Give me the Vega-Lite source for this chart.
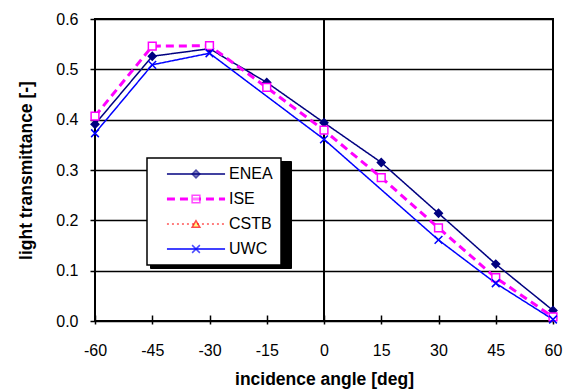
{
  "$schema": "https://vega.github.io/schema/vega-lite/v6.json",
  "width": 458,
  "height": 302,
  "autosize": {"type": "none"},
  "padding": {"left": 95, "top": 19, "right": 19, "bottom": 70},
  "background": "white",
  "config": {
    "font": "Liberation Sans",
    "view": {"stroke": "black", "strokeWidth": 2},
    "axis": {
      "labelFont": "Liberation Sans",
      "titleFont": "Liberation Sans",
      "labelColor": "black",
      "titleColor": "black",
      "tickColor": "black",
      "tickWidth": 1.5,
      "domain": false,
      "labelFontSize": 16,
      "titleFontSize": 17.5,
      "titleFontWeight": "bold",
      "labelFlush": false,
      "labelOverlap": false
    },
    "legend": {"labelFont": "Liberation Sans", "labelColor": "black"}
  },
  "data": {
    "values": [
      {"lab": "ENEA", "angle": -60, "lt": 0.391},
      {"lab": "ENEA", "angle": -45, "lt": 0.526},
      {"lab": "ENEA", "angle": -30, "lt": 0.541},
      {"lab": "ENEA", "angle": -15, "lt": 0.474},
      {"lab": "ENEA", "angle": 0, "lt": 0.394},
      {"lab": "ENEA", "angle": 15, "lt": 0.315},
      {"lab": "ENEA", "angle": 30, "lt": 0.214},
      {"lab": "ENEA", "angle": 45, "lt": 0.113},
      {"lab": "ENEA", "angle": 60, "lt": 0.021},
      {"lab": "ISE", "angle": -60, "lt": 0.407},
      {"lab": "ISE", "angle": -45, "lt": 0.546},
      {"lab": "ISE", "angle": -30, "lt": 0.547},
      {"lab": "ISE", "angle": -15, "lt": 0.464},
      {"lab": "ISE", "angle": 0, "lt": 0.379},
      {"lab": "ISE", "angle": 15, "lt": 0.285},
      {"lab": "ISE", "angle": 30, "lt": 0.185},
      {"lab": "ISE", "angle": 45, "lt": 0.086},
      {"lab": "ISE", "angle": 60, "lt": 0.008},
      {"lab": "UWC", "angle": -60, "lt": 0.373},
      {"lab": "UWC", "angle": -45, "lt": 0.509},
      {"lab": "UWC", "angle": -30, "lt": 0.532},
      {"lab": "UWC", "angle": 0, "lt": 0.361},
      {"lab": "UWC", "angle": 30, "lt": 0.161},
      {"lab": "UWC", "angle": 45, "lt": 0.075},
      {"lab": "UWC", "angle": 60, "lt": 0.003}
    ]
  },
  "encoding": {
    "x": {
      "field": "angle",
      "type": "quantitative",
      "scale": {"domain": [-60, 60], "nice": false, "zero": false},
      "axis": {
        "title": "incidence angle [deg]",
        "values": [-60, -45, -30, -15, 0, 15, 30, 45, 60],
        "labelExpr": "'' + datum.value",
        "offset": -6,
        "tickSize": 9,
        "labelPadding": 18,
        "grid": false,
        "titlePadding": 12
      }
    },
    "y": {
      "field": "lt",
      "type": "quantitative",
      "scale": {"domain": [0, 0.6], "nice": false},
      "axis": {
        "title": "light transmittance [-]",
        "values": [0, 0.1, 0.2, 0.3, 0.4, 0.5, 0.6],
        "format": ".1f",
        "tickSize": 5,
        "labelPadding": 12,
        "grid": true,
        "gridColor": "black",
        "gridWidth": 1.5,
        "gridOpacity": 1,
        "titlePadding": 20
      }
    }
  },
  "layer": [
    {
      "mark": {"type": "rule", "color": "black", "strokeWidth": 1.5},
      "encoding": {"x": {"datum": 0}, "y": null}
    },
    {
      "mark": {"type": "line", "strokeCap": "butt"},
      "encoding": {
        "detail": {"field": "lab"},
        "color": {
          "field": "lab",
          "type": "nominal",
          "scale": {
            "domain": ["ENEA", "ISE", "CSTB", "UWC"],
            "range": ["#000080", "#FF00FF", "#FF0000", "#0000FF"]
          },
          "legend": {
            "title": null,
            "orient": "none",
            "legendX": 52,
            "legendY": 139,
            "direction": "vertical",
            "padding": 8,
            "rowPadding": 9,
            "fillColor": "white",
            "strokeColor": "black",
            "symbolType": "M-7.5,0H7.5",
            "symbolSize": 60,
            "symbolOffset": 33,
            "labelOffset": 25,
            "labelFontSize": 16,
            "labelExpr": "datum.label + '\u00a0'",
            "zindex": 2,
            "encode": {"legend": {"update": {"strokeWidth": {"value": 1.5}}}}
          }
        },
        "strokeDash": {
          "field": "lab",
          "type": "nominal",
          "scale": {
            "type": "ordinal",
            "domain": ["ENEA", "ISE", "CSTB", "UWC"],
            "range": [[1, 0], [8, 5], [2, 3], [1, 0]]
          }
        },
        "strokeWidth": {
          "field": "lab",
          "type": "nominal",
          "scale": {
            "type": "ordinal",
            "domain": ["ENEA", "ISE", "CSTB", "UWC"],
            "range": [1.5, 3, 1, 1.5]
          }
        }
      }
    },
    {
      "mark": {"type": "point", "filled": true, "size": 60, "strokeWidth": 1.5},
      "encoding": {
        "shape": {
          "field": "lab",
          "type": "nominal",
          "scale": {
            "domain": ["ENEA", "ISE", "UWC", "CSTB"],
            "range": ["diamond", "square", "M-1,-1L1,1M-1,1L1,-1", "triangle-up"]
          },
          "legend": {
            "title": null,
            "orient": "none",
            "legendX": 52,
            "legendY": 139,
            "direction": "vertical",
            "padding": 8,
            "rowPadding": 9,
            "symbolSize": 60,
            "symbolStrokeWidth": 1.5,
            "symbolOffset": 33,
            "labelOffset": 25,
            "labelFontSize": 16,
            "labelExpr": "''",
            "values": ["ENEA", "ISE", "CSTB", "UWC"],
            "zindex": 3
          }
        },
        "fill": {
          "field": "lab",
          "type": "nominal",
          "scale": {
            "domain": ["ENEA", "ISE", "UWC", "CSTB"],
            "range": ["#000080", "#FFFFFF", "transparent", "#FFFF00"]
          }
        },
        "stroke": {
          "field": "lab",
          "type": "nominal",
          "scale": {
            "domain": ["ENEA", "ISE", "UWC", "CSTB"],
            "range": ["#000080", "#FF00FF", "#0000FF", "#FF0000"]
          }
        },
        "opacity": {
          "field": "lab",
          "type": "nominal",
          "scale": {
            "domain": ["UWC", "CSTB", "ISE", "ENEA"],
            "range": [1, 1, 1, 1]
          },
          "legend": {
            "title": null,
            "orient": "none",
            "legendX": 55,
            "legendY": 142,
            "direction": "vertical",
            "padding": 8,
            "rowPadding": 9,
            "fillColor": "black",
            "strokeColor": "black",
            "symbolType": "M-7.5,0H20.9",
            "symbolSize": 60,
            "symbolOffset": 33,
            "labelOffset": 25,
            "labelFontSize": 16,
            "labelExpr": "''",
            "zindex": 1
          }
        }
      }
    }
  ]
}
